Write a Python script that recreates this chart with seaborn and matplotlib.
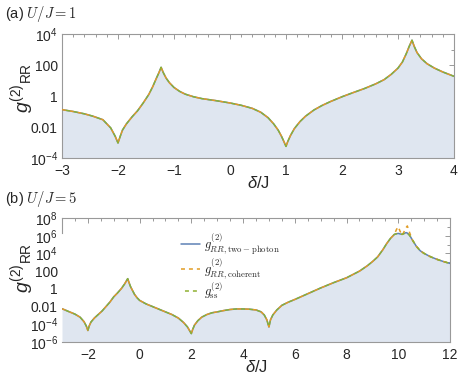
import numpy as np
import pandas as pd
import matplotlib
matplotlib.use("Agg")
import matplotlib.pyplot as plt
from matplotlib.ticker import FixedLocator, FixedFormatter, MultipleLocator
from matplotlib.font_manager import FontProperties
import seaborn as sns

# ---------------- data (log10 of g2) ----------------
# panel (a) U/J = 1
xa = [-3.0, -2.8, -2.6, -2.45, -2.27, -2.13, -2.05, -2.0, -1.96, -1.92, -1.85, -1.75,
      -1.65, -1.55, -1.45, -1.38, -1.32, -1.27, -1.23, -1.19, -1.14, -1.08, -1.0, -0.9,
      -0.8, -0.65, -0.5, -0.25, 0.0, 0.2, 0.4, 0.55, 0.68, 0.78, 0.86, 0.92, 0.97, 1.0,
      1.03, 1.08, 1.15, 1.25, 1.35, 1.5, 1.65, 1.8, 2.0, 2.2, 2.4, 2.6, 2.75, 2.88, 3.0,
      3.08, 3.15, 3.2, 3.25, 3.29, 3.34, 3.42, 3.52, 3.65, 3.8, 4.0]
la = [-0.88, -1.0, -1.15, -1.3, -1.53, -2.06, -2.6, -3.03, -2.6, -2.2, -1.8, -1.35,
      -0.95, -0.45, 0.1, 0.6, 1.1, 1.5, 1.85, 1.5, 1.15, 0.85, 0.55, 0.3,
      0.12, -0.05, -0.17, -0.3, -0.45, -0.6, -0.8, -1.05, -1.4, -1.8, -2.2, -2.6, -3.0, -3.25,
      -2.95, -2.55, -2.1, -1.65, -1.3, -0.9, -0.6, -0.35, -0.05, 0.22, 0.48, 0.78, 1.05, 1.4, 1.8,
      2.2, 2.75, 3.2, 3.6, 3.2, 2.8, 2.4, 2.08, 1.8, 1.55, 1.27]

# panel (b) U/J = 5
xb = [-3.0, -2.75, -2.5, -2.3, -2.15, -2.06, -2.0, -1.95, -1.88, -1.75, -1.6, -1.45,
      -1.3, -1.15, -1.0, -0.85, -0.7, -0.58, -0.5, -0.46, -0.42, -0.35, -0.2, -0.1, 0.0,
      0.25, 0.5, 0.75, 1.0, 1.25, 1.5, 1.7, 1.85, 1.95, 2.0, 2.05, 2.12, 2.25, 2.4, 2.6,
      2.8, 3.0, 3.25, 3.5, 3.75, 4.0, 4.25, 4.5, 4.7, 4.82, 4.92, 5.0, 5.06, 5.15, 5.3,
      5.5, 5.75, 6.0, 6.5, 7.0, 7.5, 8.0, 8.5, 8.8, 9.0, 9.2, 9.4, 9.55, 9.7, 9.85, 9.93,
      10.0, 10.07, 10.15, 10.25, 10.3, 10.35, 10.42, 10.47, 10.55, 10.7, 10.85, 11.0,
      11.25, 11.5, 11.75, 12.0]
lb_ss = [-2.24, -2.55, -2.85, -3.2, -3.7, -4.2, -4.7, -4.2, -3.75, -3.3, -2.9, -2.5,
         -2.0, -1.5, -0.9, -0.45, 0.05, 0.55, 0.95, 1.15, 0.8, 0.25, -0.6, -1.0, -1.3,
         -1.7, -2.0, -2.3, -2.6, -2.9, -3.3, -3.8, -4.3, -4.8, -5.05, -4.6, -4.1, -3.6, -3.2, -2.9,
         -2.7, -2.6, -2.45, -2.33, -2.27, -2.27, -2.3, -2.38, -2.6, -2.95, -3.5, -4.3, -3.5, -2.95, -2.4,
         -1.86, -1.5, -1.2, -0.55, 0.1, 0.7, 1.25, 2.0, 2.6, 3.07, 3.6, 4.4, 5.1, 5.7, 6.15, 6.22,
         6.26, 6.2, 6.15, 6.28, 6.35, 6.3, 6.1, 5.9, 5.5, 4.8, 4.3, 4.0,
         3.62, 3.33, 3.08, 2.87]
lb_coh = [-2.24, -2.55, -2.85, -3.2, -3.7, -4.2, -4.7, -4.2, -3.75, -3.3, -2.9, -2.5,
          -2.0, -1.5, -0.9, -0.45, 0.05, 0.55, 0.95, 1.15, 0.8, 0.25, -0.6, -1.0, -1.3,
          -1.7, -2.0, -2.3, -2.6, -2.9, -3.3, -3.8, -4.3, -4.8, -5.05, -4.6, -4.1, -3.6, -3.2, -2.9,
          -2.7, -2.6, -2.45, -2.33, -2.27, -2.27, -2.3, -2.38, -2.6, -2.95, -3.5, -4.3, -3.5, -2.95, -2.4,
          -1.86, -1.5, -1.2, -0.55, 0.1, 0.7, 1.25, 2.0, 2.6, 3.07, 3.6, 4.4, 5.1, 5.7, 6.15, 6.7,
          7.0, 6.5, 6.05, 6.6, 6.9, 7.1, 6.5, 6.1, 5.5, 4.8, 4.3, 4.0,
          3.62, 3.33, 3.08, 2.87]

ya_ticks = [1e-4, 1e-2, 1e0, 1e2, 1e4]
ya_labels = [r'$10^{-4}$', '0.01', '1', '100', r'$10^{4}$']
ya_minor = [1e-3, 1e-1, 1e1, 1e3]
yb_ticks = [1e-6, 1e-4, 1e-2, 1e0, 1e2, 1e4, 1e6, 1e8]
yb_labels = [r'$10^{-6}$', r'$10^{-4}$', '0.01', '1', '100', r'$10^{4}$', r'$10^{6}$', r'$10^{8}$']
yb_minor = [1e-5, 1e-3, 1e-1, 1e1, 1e3, 1e5, 1e7]

labels = [r'$g^{(2)}_{RR,\mathrm{two-photon}}$',
          r'$g^{(2)}_{RR,\mathrm{coherent}}$',
          r'$g^{(2)}_{\mathrm{ss}}$']
titles = [r'(a) $U/J = 1$', r'(b) $U/J = 5$']

# ---------------- style ----------------
sns.set_style("white")
plt.rcParams['font.family'] = ['Liberation Sans', 'DejaVu Sans']
plt.rcParams['mathtext.fontset'] = 'custom'
plt.rcParams['mathtext.rm'] = 'Liberation Sans'
plt.rcParams['mathtext.it'] = 'Liberation Sans:italic'
plt.rcParams['mathtext.bf'] = 'Liberation Sans:bold'

BLUE = '#5E81B5'
ORANGE = '#E19C24'
GREEN = '#8FB032'
FILL = '#dfe6f0'
SPINE = '#999999'
LW = 1.1

fig = plt.figure(figsize=(4.63, 3.81), dpi=100)
axa = fig.add_axes([62/463, 1-158/381, (454-62)/463, 124/381])
axb = fig.add_axes([62/463, 1-342/381, (450-62)/463, 124/381])

dfa = pd.DataFrame({'x': xa, 'two': np.power(10.0, la), 'coh': np.power(10.0, la),
                    'ss': np.power(10.0, la)})
dfb = pd.DataFrame({'x': xb, 'two': np.power(10.0, lb_ss), 'coh': np.power(10.0, lb_coh),
                    'ss': np.power(10.0, lb_ss)})

def draw(ax, df, lo):
    ax.fill_between(df['x'], df['two'], lo, color=FILL, lw=0, zorder=1)
    sns.lineplot(data=df, x='x', y='two', ax=ax, color=BLUE, lw=LW, label=labels[0],
                 sort=False, zorder=3)
    sns.lineplot(data=df, x='x', y='coh', ax=ax, color=ORANGE, lw=LW, label=labels[1],
                 sort=False, zorder=4)
    sns.lineplot(data=df, x='x', y='ss', ax=ax, color=GREEN, lw=LW, label=labels[2],
                 sort=False, zorder=5)
    ax.lines[1].set_linestyle((0, (2.6, 2.6)))
    ax.lines[2].set_linestyle((2.6, (2.6, 2.6)))
    ax.set_yscale('log')

draw(axa, dfa, 1e-4)
draw(axb, dfb, 1e-6)

for ax, ticks, tl, minor, lim, xl, xmaj, xmin in [
        (axa, ya_ticks, ya_labels, ya_minor, (1e-4, 1e4), (-3, 4), 1, 0.2),
        (axb, yb_ticks, yb_labels, yb_minor, (1e-6, 1e8), (-3, 12), 2, 0.5)]:
    ax.set_ylim(*lim)
    ax.set_xlim(*xl)
    ax.yaxis.set_major_locator(FixedLocator(ticks))
    ax.yaxis.set_major_formatter(FixedFormatter(tl))
    ax.yaxis.set_minor_locator(FixedLocator(minor))
    ax.yaxis.set_minor_formatter(FixedFormatter([''] * len(minor)))
    ax.xaxis.set_major_locator(MultipleLocator(xmaj))
    ax.xaxis.set_minor_locator(MultipleLocator(xmin))
    ax.tick_params(which='both', direction='in', top=True, right=True, color=SPINE,
                   labelsize=10, width=0.7)
    ax.tick_params(axis='x', which='both', pad=4.5)
    ax.tick_params(axis='y', which='both', pad=3)
    ax.tick_params(which='major', length=3.5)
    ax.tick_params(which='minor', length=2)
    for s in ax.spines.values():
        s.set_color(SPINE)
        s.set_linewidth(0.8)
    ax.set_xlabel('')
    ax.set_ylabel('')

axa.get_legend().remove()
axb.spines['left'].set_bounds(10**6.3, 1e8)
axb.tick_params(axis='y', which='both', left=False)

legprop = FontProperties(family='DejaVu Serif', size=9)
legprop.set_math_fontfamily('cm')
h, l = axb.get_legend_handles_labels()
leg = axb.legend(h, l, loc='upper left', bbox_to_anchor=(0.295, 0.935), frameon=False,
                 prop=legprop, handlelength=1.5, handletextpad=0.3, labelspacing=0.0,
                 borderaxespad=0)

# axis labels
for ax in (axa, axb):
    ax.text(0.5, -0.2, r'$\delta$/J', transform=ax.transAxes, ha='center', va='center',
            fontsize=12)
ylab = r'$g^{(2)}{}_{\mathrm{RR}}$'
fig.text(22/463, 1-88/381, ylab, rotation=90, ha='center', va='center', fontsize=14)
fig.text(22/463, 1-268/381, ylab, rotation=90, ha='center', va='center', fontsize=14)

for t, ypix in zip(titles, [14, 199]):
    fig.text(5/463, 1-ypix/381, t, ha='left', va='center', fontsize=10.5,
             math_fontfamily='cm')

fig.savefig('out.png', dpi=100)
